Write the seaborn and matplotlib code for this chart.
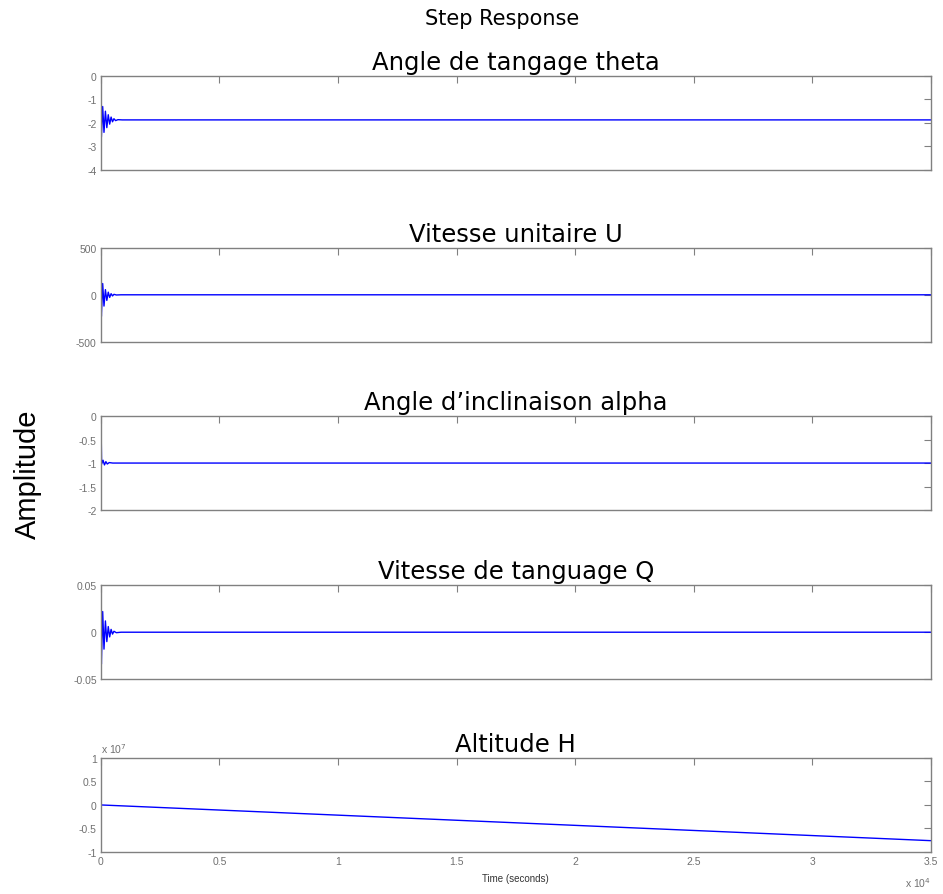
import numpy as np
import pandas as pd
import matplotlib
matplotlib.use('Agg')
import matplotlib.pyplot as plt
from matplotlib.ticker import FuncFormatter, MultipleLocator
import seaborn as sns

# values (time in seconds)
t_theta = [0, 20, 75, 130, 190, 250, 310, 370, 430, 490, 550, 620, 720, 900, 35000]
theta = [0, -2.6, -1.3, -2.4, -1.5, -2.2, -1.65, -2.05, -1.75, -1.95, -1.82, -1.9, -1.86, -1.87, -1.87]

t_u = [0, 20, 75, 130, 190, 250, 310, 370, 430, 490, 550, 650, 850, 35000]
u = [0, -230, 120, -120, 55, -60, 28, -28, 12, -12, 5, -2, 0, 0]

t_alpha = [0, 30, 90, 150, 210, 270, 350, 500, 35000]
alpha = [0, -1.02, -0.94, -1.04, -0.97, -1.02, -0.99, -1.0, -1.0]

t_q = [0, 20, 75, 130, 190, 250, 310, 370, 430, 490, 550, 650, 850, 35000]
q = [0, -0.034, 0.022, -0.018, 0.012, -0.01, 0.006, -0.005, 0.003, -0.002, 0.001, -0.0005, 0, 0]

t_h = [0, 35000]
h = [0, -7.6e6]

titles = ['Angle de tangage theta', 'Vitesse unitaire U', "Angle d\u2019inclinaison alpha",
          'Vitesse de tanguage Q', 'Altitude H']
ylims = [(-4, 0), (-500, 500), (-2, 0), (-0.05, 0.05), (-1e7, 1e7)]
ysteps = [1, 500, 0.5, 0.05, 0.5e7]

series = [(t_theta, theta), (t_u, u), (t_alpha, alpha), (t_q, q), (t_h, h)]

sns.set_style('white')
plt.rcParams['font.family'] = ['Liberation Sans', 'DejaVu Sans']

fig = plt.figure(figsize=(9.43, 8.95), dpi=100)
left, width, height = 0.107, 0.880, 0.105
bottoms = [0.809, 0.617, 0.429, 0.240, 0.047]
grey = '#808080'

for i, ((tt, yy), title) in enumerate(zip(series, titles)):
    ax = fig.add_axes([left, bottoms[i], width, height])
    df = pd.DataFrame({'t': tt, 'y': yy})
    sns.lineplot(data=df, x='t', y='y', ax=ax, color='blue', linewidth=1.0, estimator=None, sort=False)
    ax.set_xlim(0, 35000)
    ax.set_ylim(*ylims[i])
    ax.xaxis.set_major_locator(MultipleLocator(5000))
    ax.yaxis.set_major_locator(MultipleLocator(ysteps[i]))
    ax.set_title(title, fontsize=17.5, pad=5, family='DejaVu Sans', color='black')
    ax.set_xlabel('')
    ax.set_ylabel('')
    for s in ax.spines.values():
        s.set_color(grey)
        s.set_linewidth(1.0)
    ax.tick_params(direction='in', length=5, width=0.8, color=grey, labelcolor='#707070',
                   labelsize=7.5, top=True, right=True, pad=3)
    ax.yaxis.set_major_formatter(FuncFormatter(lambda v, p: f'{v:g}'))
    if i < 4:
        ax.tick_params(labelbottom=False)
    else:
        ax.xaxis.set_major_formatter(FuncFormatter(lambda v, p: f'{v / 1e4:g}'))
        ax.yaxis.set_major_formatter(FuncFormatter(lambda v, p: f'{v / 1e7:g}'))
        ax.set_xlabel('Time (seconds)', fontsize=7, labelpad=5, color='#333333')
        ax.text(0.0, 1.03, r'x 10$^{7}$', transform=ax.transAxes, fontsize=7.5, color='#707070',
                ha='left', va='bottom')
        ax.text(1.0, -0.25, r'x 10$^{4}$', transform=ax.transAxes, fontsize=7.5, color='#707070',
                ha='right', va='top')

fig.text(0.532, 0.979, 'Step Response', fontsize=15, ha='center', va='center',
         family='DejaVu Sans', color='black')
fig.text(0.03, 0.47, 'Amplitude', fontsize=21, rotation=90, ha='center', va='center', color='black')

fig.savefig('out.png', dpi=100)
